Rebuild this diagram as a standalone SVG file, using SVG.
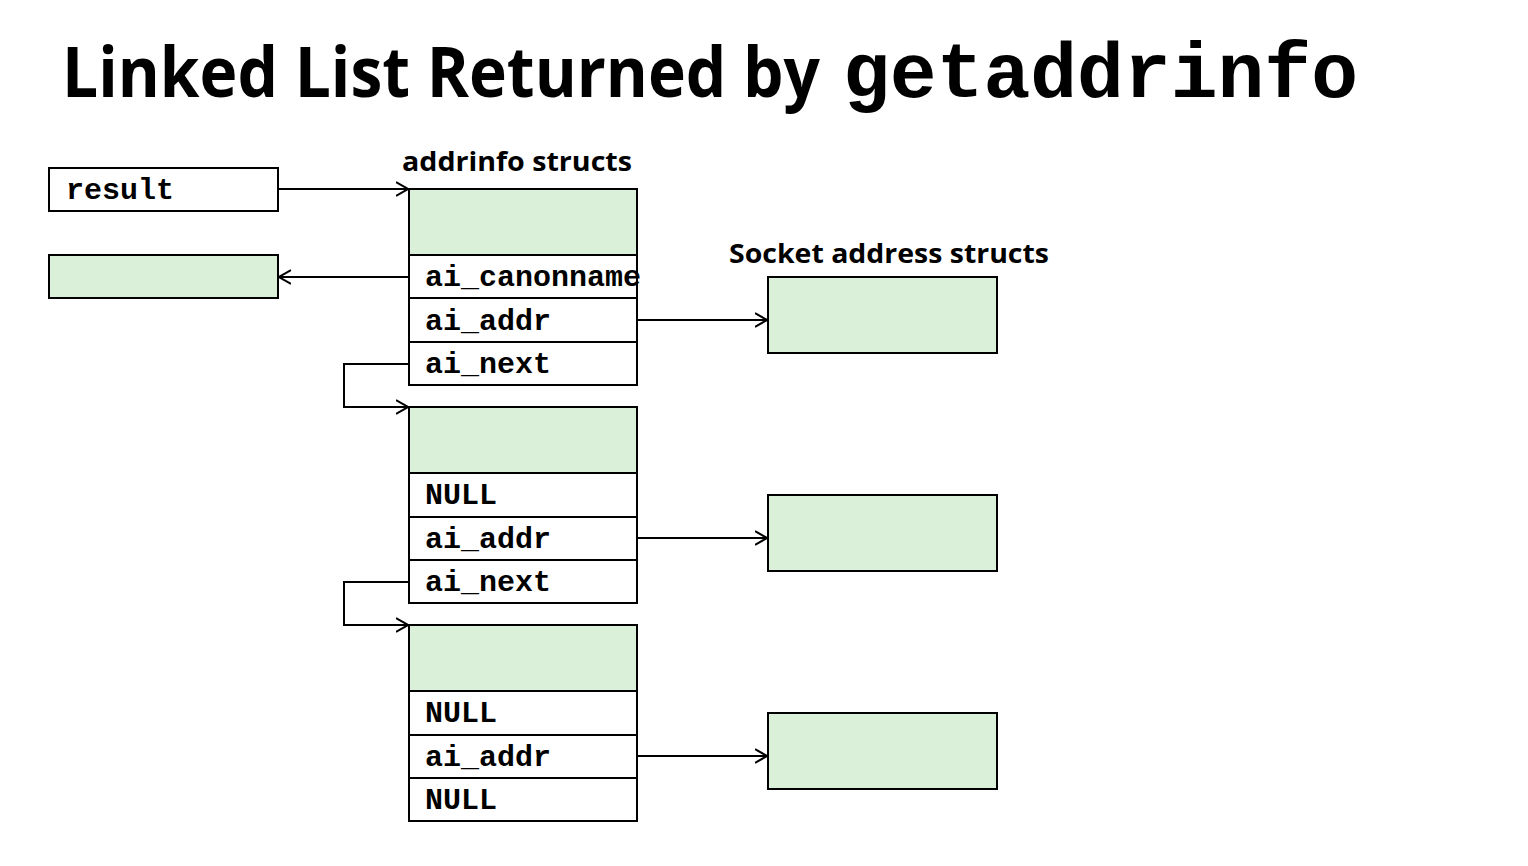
<svg xmlns="http://www.w3.org/2000/svg" width="1528" height="866" viewBox="0 0 1528 866">
<style>
.box{stroke:#000;stroke-width:2;fill:#fff}
.g{fill:#dbf0d8}
.mono{font-family:"Liberation Mono","Courier New",monospace;font-weight:bold;font-size:30px;fill:#000}
.sans{font-family:"Open Sans","Noto Sans",sans-serif;font-weight:bold;fill:#000}
.conn{stroke:#000;stroke-width:2;fill:none}
</style>
<defs>
<marker id="arr" viewBox="0 0 12 16" refX="12" refY="8" markerWidth="12" markerHeight="16" markerUnits="userSpaceOnUse" orient="auto">
<path d="M0,1 L12,8 L0,15" fill="none" stroke="#000" stroke-width="2"/>
</marker>
</defs>
<rect width="1528" height="866" fill="#fff"/>
<g id="title">
<text class="sans" x="62" y="97" style="font-size:70px" textLength="758" lengthAdjust="spacingAndGlyphs">Linked List Returned by</text>
<text class="mono" x="843" y="97" style="font-size:78px" textLength="515" lengthAdjust="spacingAndGlyphs">getaddrinfo</text>
</g>
<g id="label-addrinfo"><text class="sans" x="402" y="171" style="font-size:27px" textLength="230" lengthAdjust="spacingAndGlyphs">addrinfo structs</text></g>
<g id="label-socket"><text class="sans" x="729" y="263" style="font-size:27px" textLength="320" lengthAdjust="spacingAndGlyphs">Socket address structs</text></g>
<g id="result">
<rect class="box" x="49" y="168" width="229" height="43"/>
<text class="mono" x="66" y="199">result</text>
</g>
<g id="canonname-str"><rect class="box g" x="49" y="255" width="229" height="43"/></g>
<g id="struct1">
<rect class="box g" x="409" y="189" width="228" height="66"/>
<rect class="box" x="409" y="255" width="228" height="43"/>
<rect class="box" x="409" y="298" width="228" height="44"/>
<rect class="box" x="409" y="342" width="228" height="43"/>
<text class="mono" x="425" y="286">ai_canonname</text>
<text class="mono" x="425" y="330">ai_addr</text>
<text class="mono" x="425" y="373">ai_next</text>
</g>
<g id="struct2">
<rect class="box g" x="409" y="407" width="228" height="66"/>
<rect class="box" x="409" y="473" width="228" height="44"/>
<rect class="box" x="409" y="517" width="228" height="43"/>
<rect class="box" x="409" y="560" width="228" height="43"/>
<text class="mono" x="425" y="504">NULL</text>
<text class="mono" x="425" y="548">ai_addr</text>
<text class="mono" x="425" y="591">ai_next</text>
</g>
<g id="struct3">
<rect class="box g" x="409" y="625" width="228" height="66"/>
<rect class="box" x="409" y="691" width="228" height="44"/>
<rect class="box" x="409" y="735" width="228" height="43"/>
<rect class="box" x="409" y="778" width="228" height="43"/>
<text class="mono" x="425" y="722">NULL</text>
<text class="mono" x="425" y="766">ai_addr</text>
<text class="mono" x="425" y="809">NULL</text>
</g>
<g id="sock1"><rect class="box g" x="768" y="277" width="229" height="76"/></g>
<g id="sock2"><rect class="box g" x="768" y="495" width="229" height="76"/></g>
<g id="sock3"><rect class="box g" x="768" y="713" width="229" height="76"/></g>
<g id="connectors">
<path class="conn" d="M278,189 H408" marker-end="url(#arr)"/>
<path class="conn" d="M409,277 H279" marker-end="url(#arr)"/>
<path class="conn" d="M637,320 H767" marker-end="url(#arr)"/>
<path class="conn" d="M637,538 H767" marker-end="url(#arr)"/>
<path class="conn" d="M637,756 H767" marker-end="url(#arr)"/>
<path class="conn" d="M409,364 H344 V407 H408" marker-end="url(#arr)"/>
<path class="conn" d="M409,582 H344 V625 H408" marker-end="url(#arr)"/>
</g>
</svg>
